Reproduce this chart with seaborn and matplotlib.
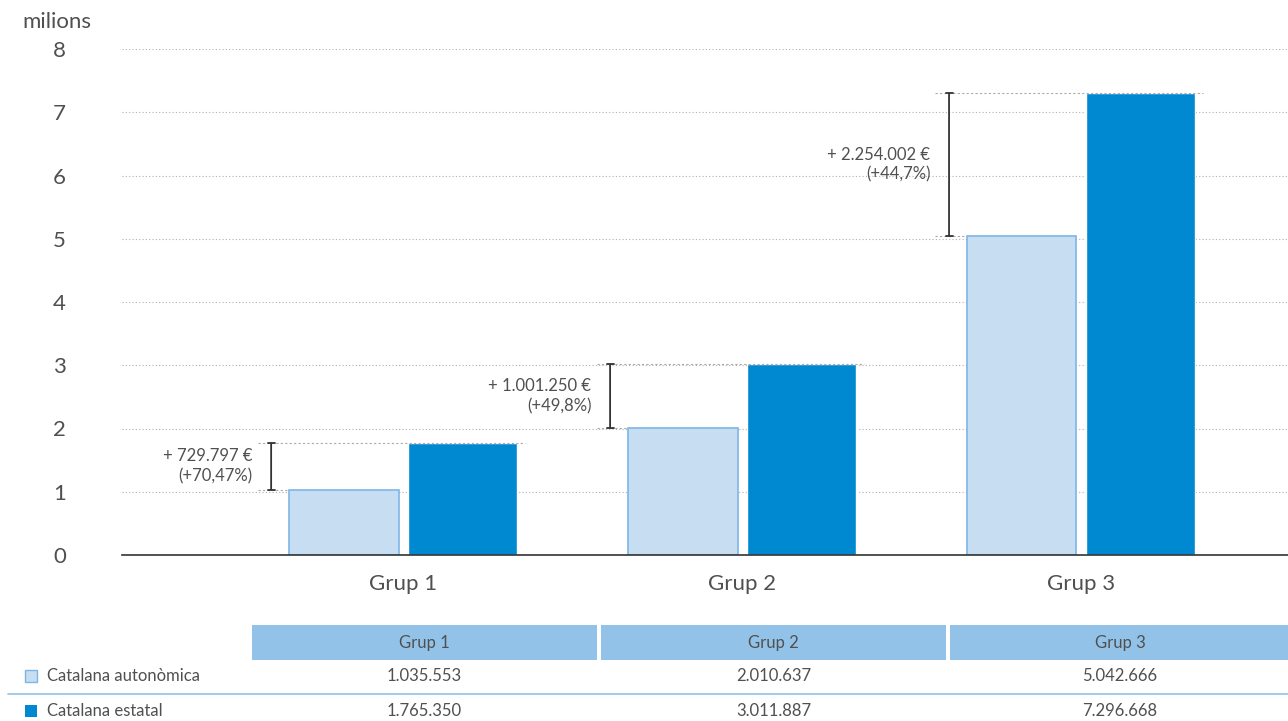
import numpy as np
import pandas as pd
import matplotlib
matplotlib.use("Agg")
import matplotlib.pyplot as plt
import seaborn as sns

grups = ["Grup 1", "Grup 2", "Grup 3"]
series = ["Catalana autonòmica", "Catalana estatal"]
autonomica = [1035553, 2010637, 5042666]
estatal = [1765350, 3011887, 7296668]
pct_labels = ["(+70,47%)", "(+49,8%)", "(+44,7%)"]
yticks = [0, 1, 2, 3, 4, 5, 6, 7, 8]

light = "#C6DDF2"
light_edge = "#7DB6E6"
dark = "#0088D1"
header = "#93C2E8"
txt = "#505050"


def fmt(n):
    return f"{n:,}".replace(",", ".")


df = pd.DataFrame({
    "grup": grups * 2,
    "serie": [series[0]] * 3 + [series[1]] * 3,
    "valor": [v / 1e6 for v in autonomica + estatal],
})

sns.set_style("white")
plt.rcParams["font.family"] = ["Lato", "DejaVu Sans"]

fig = plt.figure(figsize=(12.88, 7.21), dpi=100)
ax = fig.add_axes([122 / 1288, 1 - 555 / 721, 1 - 122 / 1288, (555 - 49) / 721])

sns.barplot(data=df, x="grup", y="valor", hue="serie", hue_order=series,
            palette=[light, dark], saturation=1, width=0.70, gap=0.08,
            legend=False, ax=ax)
for p in ax.patches[:3]:
    p.set_edgecolor(light_edge)
    p.set_linewidth(1.2)

ax.set_xlim(-0.83, 2.61)
ax.set_ylim(0, 8)
ax.set_yticks(yticks)
ax.yaxis.grid(True, linestyle=(0, (1, 2)), color="#b0b0b0", linewidth=0.8)
ax.set_axisbelow(True)
for s in ["left", "right", "top"]:
    ax.spines[s].set_visible(False)
ax.spines["bottom"].set_color("#333333")
ax.spines["bottom"].set_linewidth(1.2)
ax.tick_params(axis="y", length=0, pad=45, labelsize=16, labelcolor=txt)
for lbl in ax.get_yticklabels():
    lbl.set_horizontalalignment("center")
ax.tick_params(axis="x", length=0, pad=14, labelsize=16, labelcolor=txt)
ax.set_xlabel("")
ax.set_ylabel("")
fig.text(57 / 1288, 1 - 22 / 721, "milions", ha="center", va="center",
         fontsize=16, color=txt)

# difference annotations
for i in range(3):
    lo = autonomica[i] / 1e6
    hi = estatal[i] / 1e6
    ax.plot([i - 0.43, i + 0.36], [hi, hi], color="#aaaaaa", linestyle=(0, (2, 2)),
            linewidth=0.8, zorder=1)
    ax.plot([i - 0.43, i - 0.34], [lo, lo], color="#aaaaaa", linestyle=(0, (2, 2)),
            linewidth=0.8, zorder=1)
    ax.annotate("", xy=(i - 0.39, hi), xytext=(i - 0.39, lo),
                arrowprops=dict(arrowstyle="|-|,widthA=0.25,widthB=0.25",
                                color="#333333", lw=1.3, shrinkA=0, shrinkB=0))
    ax.text(i - 0.445, (lo + hi) / 2,
            "+ " + fmt(estatal[i] - autonomica[i]) + " €\n" + pct_labels[i],
            ha="right", va="center", fontsize=12, color=txt, linespacing=1.3)

# table below the chart
tax = fig.add_axes([0, 0, 1, 121 / 721])
tax.set_xlim(0, 1288)
tax.set_ylim(721, 600)
tax.axis("off")
cols = [(252, 597), (601, 946), (950, 1290)]
for (x0, x1), g, a, e in zip(cols, grups, autonomica, estatal):
    tax.add_patch(plt.Rectangle((x0, 625), x1 - x0, 35, color=header, lw=0))
    tax.text((x0 + x1) / 2, 643, g, ha="center", va="center", fontsize=12, color=txt)
    tax.text((x0 + x1) / 2, 676, fmt(a), ha="center", va="center", fontsize=12, color=txt)
    tax.text((x0 + x1) / 2, 711, fmt(e), ha="center", va="center", fontsize=12, color=txt)
tax.plot([8, 1288], [694, 694], color=header, lw=1.2)
tax.add_patch(plt.Rectangle((25, 670), 12, 12, facecolor=light, edgecolor=light_edge, lw=1))
tax.add_patch(plt.Rectangle((25, 705), 12, 12, facecolor=dark, lw=0))
tax.text(47, 676, series[0], ha="left", va="center", fontsize=12, color=txt)
tax.text(47, 711, series[1], ha="left", va="center", fontsize=12, color=txt)

fig.savefig("out.png", dpi=100)
